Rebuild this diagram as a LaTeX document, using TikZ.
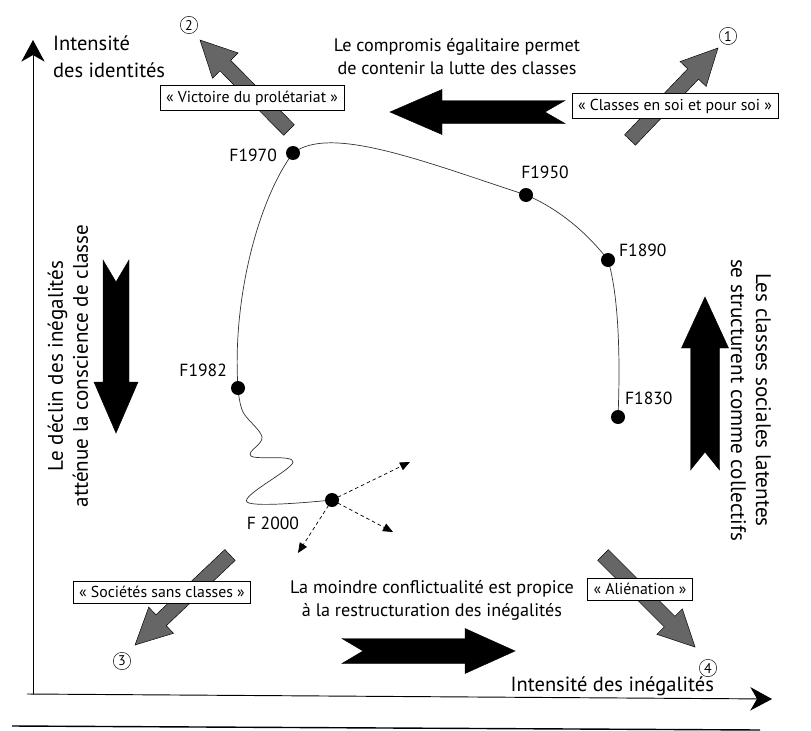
\documentclass[tikz,border=0pt]{standalone}
\usepackage{fontspec}
\setmainfont{PT Sans}
\usetikzlibrary{calc,arrows.meta}

% grosse fleche : [remplissage]{queue}{pointe}{demi-corps}{demi-tete}{long. tete}{encoche}
\newcommand{\grossefleche}[7][black]{%
  \coordinate (cou) at ($(#3)!#6*0.03cm!(#2)$);
  \filldraw[#1, draw=black, line join=miter]
    ($(#2)!#4*0.03cm!90:(#3)$) -- ($(cou)!#4*0.03cm!-90:(#2)$)
    -- ($(cou)!#5*0.03cm!-90:(#2)$) -- (#3)
    -- ($(cou)!#5*0.03cm!90:(#2)$) -- ($(cou)!#4*0.03cm!90:(#2)$)
    -- ($(#2)!#4*0.03cm!-90:(#3)$) -- ($(#2)!#7*0.03cm!(#3)$) -- cycle;
}

\tikzset{
  etiquette/.style={draw, thin, fill=white, inner xsep=5pt, inner ysep=4.5pt, font=\fontsize{13.5}{15}\selectfont},
  jalon/.style={circle, fill=black, inner sep=0pt, minimum size=0.42cm},
  annee/.style={font=\fontsize{15}{17}\selectfont},
  numero/.style={circle, draw, thin, inner sep=0.5pt, minimum size=0.52cm, font=\fontsize{12}{13}\selectfont},
  texte/.style={align=center, font=\fontsize{15.5}{19.6}\selectfont},
  axe/.style={align=left, font=\fontsize{17.5}{23}\selectfont},
  lateral/.style={align=center, font=\fontsize{18}{21.3}\selectfont},
}

\begin{document}
\begin{tikzpicture}[x=0.03cm, y=-0.03cm]
\useasboundingbox (0,0) rectangle (811,731);

% axes
\coordinate (O) at (33,694);
\coordinate (ymax) at (33,40);
\coordinate (xmax) at (772,699);
\draw[line width=0.8pt, -{Stealth[length=0.65cm, width=0.7cm, inset=0.2cm]}] (O) -- (ymax);
\draw[line width=0.8pt, -{Stealth[length=0.65cm, width=0.7cm, inset=0.2cm]}] (27,694) -- (xmax);
\coordinate (r1) at (12,726);
\coordinate (r2) at (760,730);
\draw[line width=1.2pt] (r1) -- (r2);

\node[axe, anchor=west] (yl) at (49,57) {Intensit\'e\\des identit\'es};
\node[axe, anchor=east] (xl) at (718,686) {Intensit\'e des in\'egalit\'es};

% fleches grises
\coordinate (t1) at (630,140); \coordinate (h1) at (718,48);
\coordinate (t2) at (289,130); \coordinate (h2) at (200,40);
\coordinate (t3) at (230,555); \coordinate (h3) at (135,645);
\coordinate (t4) at (603,555); \coordinate (h4) at (695,647);
\foreach \i in {1,...,4}
  \grossefleche[black!60]{t\i}{h\i}{7.5}{18}{36}{0};

\node[numero] (n1) at (728,36) {1};
\node[numero] (n2) at (189,25) {2};
\node[numero] (n3) at (122,661) {3};
\node[numero] (n4) at (708,668) {4};

\node[etiquette] (e1) at (675,106) {\guillemotleft{} Classes en soi et pour soi \guillemotright};
\node[etiquette] (e2) at (252,98) {\guillemotleft{} Victoire du prol\'etariat \guillemotright};
\node[etiquette] (e3) at (162,592) {\guillemotleft{} Soci\'et\'es sans classes \guillemotright};
\node[etiquette] (e4) at (640,589) {\guillemotleft{} Ali\'enation \guillemotright};

% fleches noires
\coordinate (qa) at (565,112); \coordinate (pa) at (390,112);
\coordinate (qb) at (342,651); \coordinate (pb) at (515,651);
\coordinate (qc) at (116,260); \coordinate (pc) at (116,433);
\coordinate (qd) at (705,470); \coordinate (pd) at (705,297);
\grossefleche{qa}{pa}{11.5}{22.5}{52}{20}
\grossefleche{qb}{pb}{12.5}{22.5}{50}{21}
\grossefleche{qc}{pc}{13}{22}{51}{22}
\grossefleche{qd}{pd}{14.5}{23.5}{51}{18}

\node[texte] (ta) at (457,57) {Le compromis \'egalitaire permet\\de contenir la lutte des classes};
\node[texte] (tb) at (432,600) {La moindre conflictualit\'e est propice\\\`a la restructuration des in\'egalit\'es};
\node[lateral, rotate=90] (tc) at (68,366) {Le d\'eclin des in\'egalit\'es\\att\'enue la conscience de classe};
\node[lateral, rotate=-90] (td) at (751,400) {Les classes sociales latentes\\se structurent comme collectifs};

% trajectoire
\coordinate (d1830) at (618,417);
\coordinate (d1890) at (608,260);
\coordinate (d1950) at (526,195);
\coordinate (d1970) at (293,153);
\coordinate (d1982) at (238,388);
\coordinate (d2000) at (332,500);
\draw[line width=0.6pt, black!80] (d1830) .. controls (620,370) and (620,300) .. (d1890)
  .. controls (585,230) and (555,207) .. (d1950)
  .. controls (420,160) and (330,125) .. (d1970)
  .. controls (258,200) and (232,300) .. (d1982);
\draw[line width=0.6pt, black!80] plot[smooth, tension=0.6] coordinates
  {(d1982) (243,412) (262,437) (251,456) (293,462) (247,502) (d2000)};

\coordinate (f1) at (410,462);
\coordinate (f2) at (393,532);
\coordinate (f3) at (298,553);
\foreach \f in {f1,f2,f3}
  \draw[line width=0.6pt, dash pattern=on 3pt off 2.5pt, -{Triangle[length=0.3cm, width=0.25cm]}] (d2000) -- (\f);

\foreach \d in {1830,1890,1950,1970,1982,2000}
  \node[jalon] (j\d) at (d\d) {};

\node[annee, anchor=west] (l1830) at (621,398) {F1830};
\node[annee, anchor=west] (l1890) at (615,250) {F1890};
\node[annee] (l1950) at (545,172) {F1950};
\node[annee, anchor=east] (l1970) at (281,155) {F1970};
\node[annee, anchor=east] (l1982) at (231,370) {F1982};
\node[annee] (l2000) at (273,523) {F 2000};
\end{tikzpicture}
\end{document}
